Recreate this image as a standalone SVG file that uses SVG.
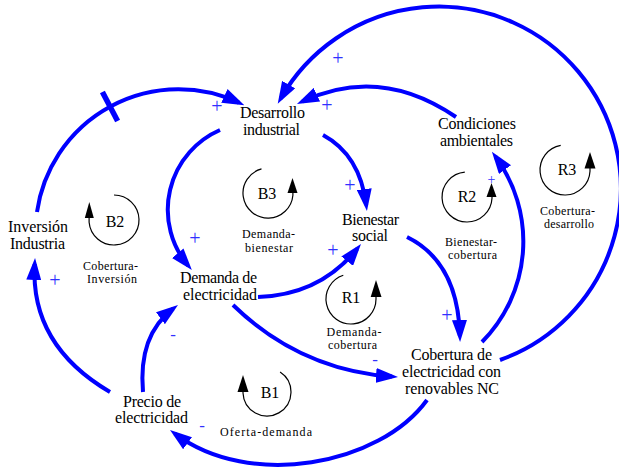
<svg xmlns="http://www.w3.org/2000/svg" width="619" height="468" viewBox="0 0 619 468" font-family="Times New Roman, Liberation Serif, Tinos, serif">
<style>
.node text{font-size:16px;fill:#000}
.lbl{font-size:12px;fill:#000;text-anchor:middle}
.num{font-size:16px;fill:#000;text-anchor:middle}
.pol{font-size:20px;fill:#3030ff;text-anchor:middle}
.link{fill:none;stroke:#0000ff;stroke-width:4;marker-end:url(#ah)}
.loop{fill:none;stroke:#000;stroke-width:1.2}
</style>
<defs>
<marker id="ah" markerUnits="userSpaceOnUse" markerWidth="22" markerHeight="15" refX="16" refY="7.5" orient="auto">
<path d="M0,0 L22,7.5 L0,15 z" fill="#0000ff"/>
</marker>
</defs>
<rect width="619" height="468" fill="#fff"/>
<g id="connectors">
<path class="link" d="M37,212 A143,143 0 0 1 238.9,102.6"/>
<line x1="102.4" y1="92" x2="117.6" y2="121" stroke="#0000ff" stroke-width="5.5"/>
<path class="link" d="M220,130 A87,87 0 0 0 188,265.5"/>
<path class="link" d="M323,135 Q360,155 366.2,205"/>
<path class="link" d="M456,117 Q380,65 302.4,101.5"/>
<path class="link" d="M500,360 A182,182 0 1 0 280.7,98.5"/>
<path class="link" d="M482,342 A143,143 0 0 0 495.5,156.7"/>
<path class="link" d="M258,297 Q320,295 357.2,248.7"/>
<path class="link" d="M407,237 Q458,262 459.9,336"/>
<path class="link" d="M233,305 Q300,370 392,376.6"/>
<path class="link" d="M427,400 C380,465 250,490 174.8,433.6"/>
<path class="link" d="M143,392 Q138,335 173.2,308.6"/>
<path class="link" d="M110,392 Q30,345 34.7,264"/>
<text class="pol" x="217" y="113">+</text>
<text class="pol" x="195" y="245">+</text>
<text class="pol" x="350" y="192">+</text>
<text class="pol" x="327" y="112">+</text>
<text class="pol" x="338" y="65">+</text>
<text class="pol" x="491.5" y="184" style="font-size:14px">+</text>
<text class="pol" x="333" y="257">+</text>
<text class="pol" x="447" y="322">+</text>
<text class="pol" x="375" y="365" style="font-size:17px">-</text>
<text class="pol" x="202" y="431" style="font-size:17px">-</text>
<text class="pol" x="173" y="340" style="font-size:17px">-</text>
<text class="pol" x="55" y="287">+</text>
</g>
<g id="loops">
<g id="loop-B2">
<path class="loop" d="M114,195 A25,25 0 1 1 89.1,222.2 L89.1,216"/>
<polygon points="89.3,202 84.8,218 93.8,218" fill="#000"/>
<text class="num" x="115" y="227">B2</text>
<text class="lbl" x="110.5" y="270" textLength="55">Cobertura-</text>
<text class="lbl" x="112" y="283" textLength="50">Inversión</text>
</g>
<g id="loop-B3">
<path class="loop" d="M261.5,168.9 A25,25 0 1 0 292.9,195.2 L292.9,192"/>
<polygon points="292.5,178 287.5,193 297.5,193" fill="#000"/>
<text class="num" x="267" y="199">B3</text>
<text class="lbl" x="268.5" y="238" textLength="53">Demanda-</text>
<text class="lbl" x="269" y="252" textLength="48">bienestar</text>
</g>
<g id="loop-R2">
<path class="loop" d="M464.8,172.1 A25,25 0 1 0 492,198.3 L492,195"/>
<polygon points="491.5,183 486.5,197 496.5,197" fill="#000"/>
<text class="num" x="467" y="202">R2</text>
<text class="lbl" x="471" y="246" textLength="52">Bienestar-</text>
<text class="lbl" x="472.5" y="259" textLength="49">cobertura</text>
</g>
<g id="loop-R3">
<path class="loop" d="M560.7,145.4 A25,25 0 1 0 590,171.3 L590,167"/>
<polygon points="590,152 584.5,168.5 595.5,168.5" fill="#000"/>
<text class="num" x="567" y="175">R3</text>
<text class="lbl" x="567.5" y="215" textLength="55">Cobertura-</text>
<text class="lbl" x="569" y="228" textLength="50">desarrollo</text>
</g>
<g id="loop-R1">
<path class="loop" d="M343.3,275.2 A25,25 0 1 0 376,299 L376,295"/>
<polygon points="376,280 370.7,297 381.5,297" fill="#000"/>
<text class="num" x="351" y="303">R1</text>
<text class="lbl" x="354" y="336" textLength="55">Demanda-</text>
<text class="lbl" x="352.5" y="349" textLength="49">cobertura</text>
</g>
<g id="loop-B1">
<path class="loop" d="M280.1,371.9 A24,24 0 1 1 243,393 L243,390"/>
<polygon points="243,375 237.5,392 248.5,392" fill="#000"/>
<text class="num" x="270" y="398">B1</text>
<text class="lbl" x="266" y="436" textLength="92">Oferta-demanda</text>
</g>
</g>
<g id="node-desarrollo" class="node">
<text x="240" y="118" textLength="65">Desarrollo</text>
<text x="243" y="135" textLength="57">industrial</text>
</g>
<g id="node-condiciones" class="node">
<text x="438" y="129" textLength="78">Condiciones</text>
<text x="440" y="146" textLength="73">ambientales</text>
</g>
<g id="node-bienestar" class="node">
<text x="342" y="225" textLength="57">Bienestar</text>
<text x="352" y="241" textLength="36">social</text>
</g>
<g id="node-inversion" class="node">
<text x="8" y="232" textLength="60">Inversión</text>
<text x="10" y="249" textLength="55">Industria</text>
</g>
<g id="node-demanda" class="node">
<text x="180" y="283" textLength="77">Demanda de</text>
<text x="183" y="300" textLength="74">electricidad</text>
</g>
<g id="node-precio" class="node">
<text x="123" y="407" textLength="58">Precio de</text>
<text x="115" y="423" textLength="73">electricidad</text>
</g>
<g id="node-cobertura" class="node">
<text x="411" y="360" textLength="81">Cobertura de</text>
<text x="402" y="377" textLength="99">electricidad con</text>
<text x="405" y="394" textLength="94">renovables NC</text>
</g>
</svg>
